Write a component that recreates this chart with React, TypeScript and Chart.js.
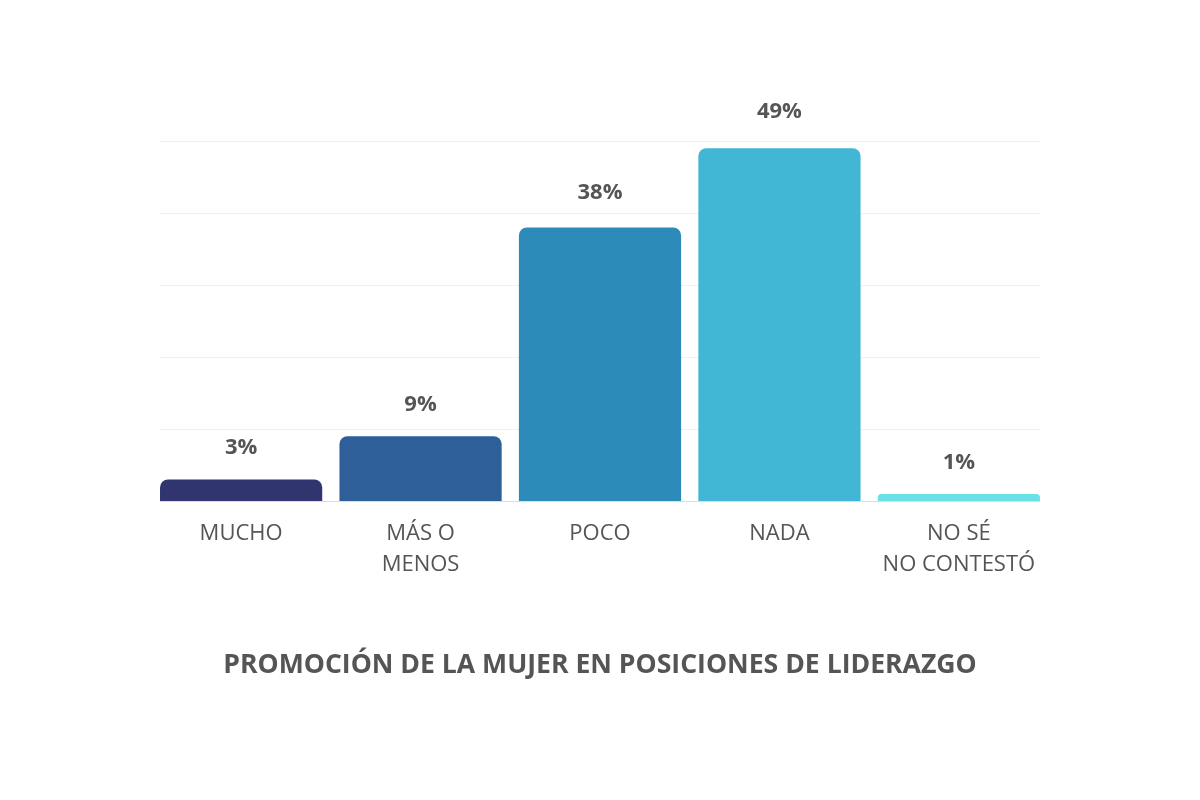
import React, { useEffect, useRef } from "react";
import { Chart, registerables } from "chart.js";

Chart.register(...registerables);

const categories: (string | string[])[] = ["MUCHO", ["MÁS O", "MENOS"], "POCO", "NADA", ["NO SÉ", "NO CONTESTÓ"]];
const values: number[] = [3, 9, 38, 49, 1];
const valueLabels: string[] = ["3%", "9%", "38%", "49%", "1%"];
const barColors: string[] = ["#30356f", "#2e5f98", "#2d8bb9", "#42b6d5", "#68e2e6"];
const titleText = "PROMOCIÓN DE LA MUJER EN POSICIONES DE LIDERAZGO";

const gridPlugin = {
  id: "spanGrid",
  beforeDatasetsDraw(chart: any) {
    const ctx = chart.ctx;
    const meta = chart.getDatasetMeta(0);
    const first = meta.data[0];
    const last = meta.data[meta.data.length - 1];
    const left = first.x - first.width / 2;
    const right = last.x + last.width / 2;
    const yScale = chart.scales.y;
    ctx.save();
    ctx.lineWidth = 1;
    yScale.ticks.forEach((t: any) => {
      const y = Math.round(yScale.getPixelForValue(t.value)) + 0.5;
      ctx.strokeStyle = t.value === 0 ? "#f6d6c2" : "#fbebe2";
      ctx.beginPath();
      ctx.moveTo(left, y);
      ctx.lineTo(right, y);
      ctx.stroke();
    });
    ctx.restore();
  },
};

const valueLabelPlugin = {
  id: "valueLabels",
  afterDatasetsDraw(chart: any) {
    const ctx = chart.ctx;
    const meta = chart.getDatasetMeta(0);
    ctx.save();
    ctx.font = "bold 22px 'Open Sans'";
    ctx.fillStyle = "#555555";
    ctx.textAlign = "center";
    ctx.textBaseline = "middle";
    meta.data.forEach((bar: any, i: number) => {
      const h = bar.base - bar.y;
      ctx.fillText(valueLabels[i], bar.x, bar.y - 31 - h * 0.015);
    });
    ctx.restore();
  },
};

export default function App() {
  const ref = useRef<HTMLCanvasElement | null>(null);
  useEffect(() => {
    if (!ref.current) return;
    Chart.defaults.font.family = "'Open Sans'";
    const chart = new Chart(ref.current, {
      type: "bar",
      data: {
        labels: categories,
        datasets: [
          {
            data: values,
            backgroundColor: barColors,
            borderRadius: { topLeft: 8, topRight: 8, bottomLeft: 0, bottomRight: 0 },
            borderSkipped: false,
            categoryPercentage: 1,
            barPercentage: 0.904,
          },
        ],
      },
      options: {
        animation: false,
        responsive: false,
        maintainAspectRatio: false,
        layout: { padding: { top: 141, left: 151.4, right: 151.4, bottom: 119 } },
        plugins: {
          legend: { display: false },
          tooltip: { enabled: false },
          title: {
            display: true,
            text: titleText,
            position: "bottom",
            color: "#555555",
            font: { size: 26.6, weight: "bold", family: "'Open Sans'", lineHeight: 1.2 },
            padding: { top: 0, bottom: 0 },
          },
        },
        scales: {
          x: {
            grid: { display: false },
            border: { display: false },
            ticks: {
              color: "#555555",
              font: { size: 22, family: "'Open Sans'", lineHeight: 1.41 },
              padding: 9,
              maxRotation: 0,
              autoSkip: false,
            },
            afterFit(scale: any) {
              scale.height = 148;
            },
          },
          y: {
            min: 0,
            max: 50,
            ticks: { display: false, stepSize: 10 },
            grid: { display: false, drawTicks: false },
            border: { display: false },
            afterFit(scale: any) {
              scale.width = 0;
            },
          },
        },
      },
      plugins: [gridPlugin, valueLabelPlugin],
    });
    return () => chart.destroy();
  }, []);
  return (
    <div style={{ position: "fixed", left: 0, top: 0, width: 1200, height: 800, background: "#ffffff" }}>
      <canvas ref={ref} width={1200} height={800} />
    </div>
  );
}
